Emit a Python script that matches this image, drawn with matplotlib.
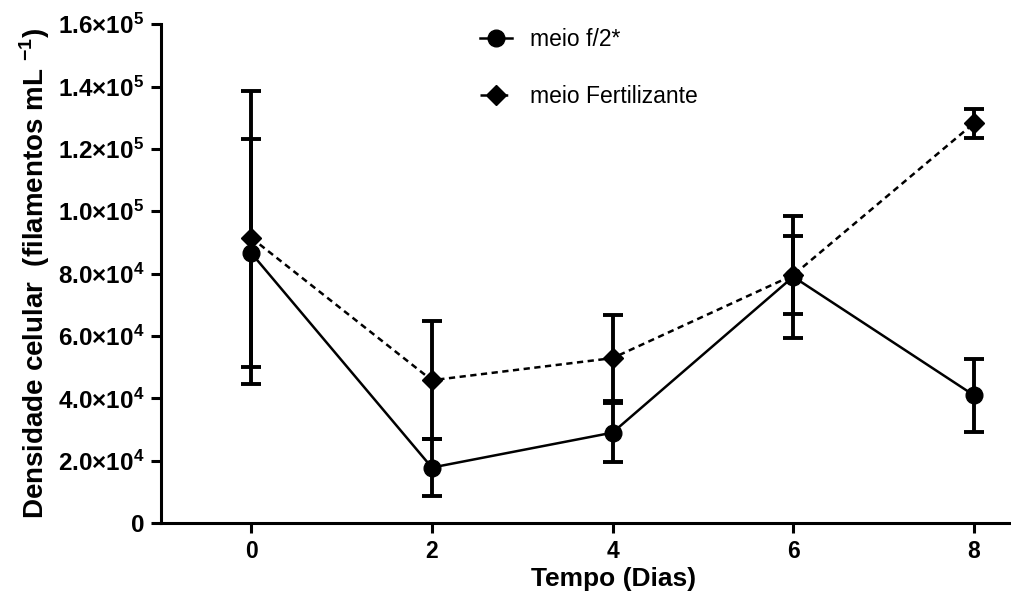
import matplotlib.pyplot as plt
import numpy as np

plt.rcParams['font.family'] = ['Liberation Sans', 'DejaVu Sans']
plt.rcParams['mathtext.fontset'] = 'custom'
plt.rcParams['mathtext.rm'] = 'Liberation Sans'
plt.rcParams['mathtext.bf'] = 'Liberation Sans:bold'

# Dados
dias = [0, 2, 4, 6, 8]
f2_media = [86600, 17800, 29000, 79000, 41000]
f2_erro = [36500, 9000, 9500, 19500, 11700]
fert_media = [91500, 45800, 52900, 79500, 128200]
fert_erro = [47000, 19000, 13800, 12500, 4600]

y_ticks = [0, 20000, 40000, 60000, 80000, 100000, 120000, 140000, 160000]
y_labels = ['0', r'$\mathbf{2.0{\times}10^{4}}$', r'$\mathbf{4.0{\times}10^{4}}$',
            r'$\mathbf{6.0{\times}10^{4}}$', r'$\mathbf{8.0{\times}10^{4}}$',
            r'$\mathbf{1.0{\times}10^{5}}$', r'$\mathbf{1.2{\times}10^{5}}$',
            r'$\mathbf{1.4{\times}10^{5}}$', r'$\mathbf{1.6{\times}10^{5}}$']

fig = plt.figure(figsize=(10.12, 6.04), dpi=100)
ax = fig.add_axes([0.159, 0.134, 0.839, 0.826])

ax.errorbar(dias, f2_media, yerr=f2_erro, color='black', marker='o', markersize=12,
            linestyle='-', linewidth=1.8, elinewidth=2.8, capsize=7.5, capthick=2.8,
            label='meio f/2*')
ax.errorbar(dias, fert_media, yerr=fert_erro, color='black', marker='D', markersize=10.5,
            linestyle=(0, (2.5, 1.8)), linewidth=1.8, elinewidth=2.8, capsize=7.5, capthick=2.8,
            label='meio Fertilizante')

ax.set_xlim(-1.0, 8.4)
ax.set_ylim(0, 160000)
ax.set_xticks(dias)
ax.set_yticks(y_ticks)
ax.set_yticklabels(y_labels)
for lab in ax.get_xticklabels():
    lab.set_fontweight('bold')
    lab.set_fontsize(16.5)
for lab in ax.get_yticklabels():
    lab.set_fontweight('bold')
    lab.set_fontsize(17.5)

ax.spines['top'].set_visible(False)
ax.spines['right'].set_visible(False)
ax.spines['left'].set_linewidth(2.2)
ax.spines['bottom'].set_linewidth(2.2)
ax.tick_params(width=2.2, length=7, direction='out', pad=5)

ax.set_xlabel('Tempo (Dias)', fontsize=19, fontweight='bold', labelpad=3)
ax.xaxis.label.set_x(0.533)
ax.set_ylabel(r'Densidade celular  (filamentos mL $^{\mathbf{-1}}$)', fontsize=20,
              fontweight='bold', labelpad=4)

handles, labels = ax.get_legend_handles_labels()
handles = [h[0] for h in handles]
fig.legend(handles, labels, loc='upper left', bbox_to_anchor=(0.454, 0.987),
           frameon=False, fontsize=16.5, handlelength=1.4, labelspacing=1.45,
           handletextpad=0.8)

plt.savefig('out.png', dpi=100)
plt.close()
